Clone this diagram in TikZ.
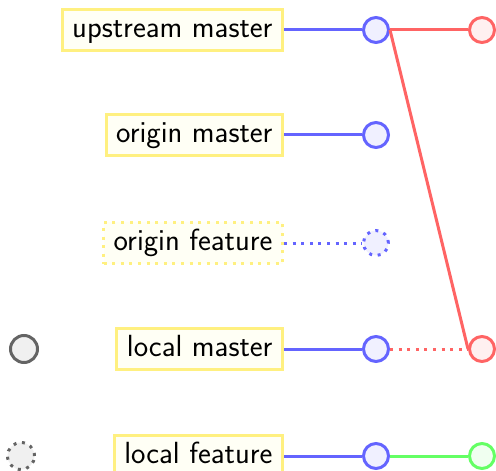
\documentclass[tikz,border=0pt]{standalone}
\definecolor{branchedge}{RGB}{255,240,128}
\definecolor{branchfill}{RGB}{255,255,245}
\definecolor{blueline}{RGB}{100,100,255}
\definecolor{bluefill}{RGB}{240,240,255}
\definecolor{redline}{RGB}{255,100,100}
\definecolor{redfill}{RGB}{255,240,240}
\definecolor{greenline}{RGB}{100,255,100}
\definecolor{greenfill}{RGB}{240,255,240}
\definecolor{greyline}{RGB}{100,100,100}
\definecolor{greyfill}{RGB}{240,240,240}
\tikzset{
  x=1bp, y=-1bp,
  every path/.style={line width=3bp},
  dotline/.style={dash pattern=on 3bp off 5.6bp},
  branch/.style={draw=branchedge, fill=branchfill, line width=3bp, anchor=east,
    font=\sffamily\fontsize{30.7}{36}\selectfont, inner xsep=10bp, inner ysep=7bp,
    text height=21bp, text depth=6bp},
  commit/.style={circle, line width=3bp, minimum size=25bp, inner sep=0pt},
  bluecommit/.style={commit, draw=blueline, fill=bluefill},
  redcommit/.style={commit, draw=redline, fill=redfill},
  greencommit/.style={commit, draw=greenline, fill=greenfill},
  legendcommit/.style={circle, line width=3bp, minimum size=27bp, inner sep=0pt,
    draw=greyline, fill=greyfill},
}
\begin{document}
\begin{tikzpicture}
\useasboundingbox (0,0) rectangle (496,471);

% branch labels
\node[branch] (um) at (284,30)  {upstream master};
\node[branch] (om) at (284,135) {origin master};
\node[branch, dotline] (of) at (284,243) {origin feature};
\node[branch] (lm) at (284,349) {local master};
\node[branch] (lf) at (284,456) {local feature};

% commits the branches point to
\node[bluecommit] (c1) at (376,30)  {};
\node[bluecommit] (c2) at (376,135) {};
\node[bluecommit, dotline] (c3) at (376,243) {};
\node[bluecommit] (c4) at (376,349) {};
\node[bluecommit] (c5) at (376,456) {};

\node[redcommit] (r1) at (482,30)  {};
\node[redcommit] (r2) at (482,349) {};
\node[greencommit] (g1) at (482,456) {};

% legend
\node[legendcommit] (solidkey) at (24,349) {};
\node[legendcommit, dotline] (dotkey) at (21,456) {};

% branch pointers
\draw[blueline] (um) -- (c1);
\draw[blueline] (om) -- (c2);
\draw[blueline, dotline] (of) -- (c3);
\draw[blueline] (lm) -- (c4);
\draw[blueline] (lf) -- (c5);

% history
\draw[redline] (c1.east) -- (r1.west);
\draw[redline] (c1.east) -- (r2.west);
\draw[redline, dotline] (c4.east) -- (r2.west);
\draw[greenline] (c5.east) -- (g1.west);
\end{tikzpicture}
\end{document}
